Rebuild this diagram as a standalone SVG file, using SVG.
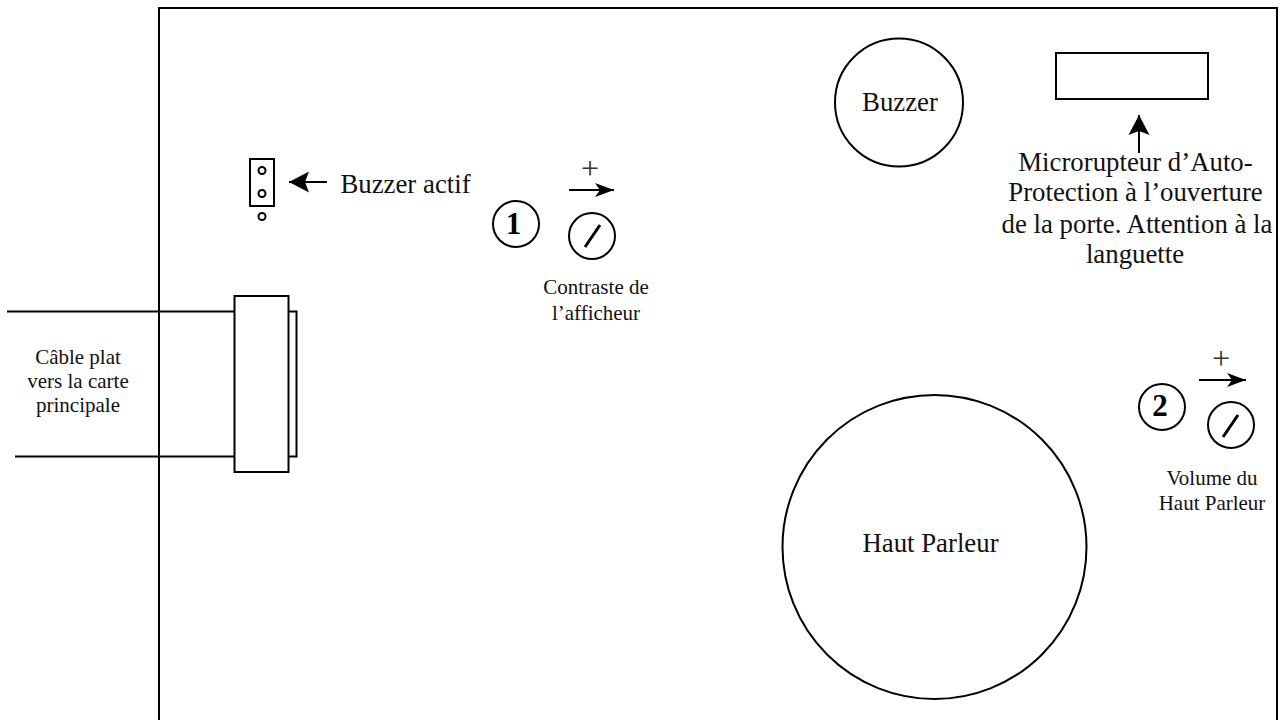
<svg xmlns="http://www.w3.org/2000/svg" width="1286" height="720" viewBox="0 0 1286 720">
<style>
.s{fill:none;stroke:#000;stroke-width:2}
.k{fill:none;stroke:#000;stroke-width:3}
.w{fill:#fff;stroke:#000;stroke-width:2}
.t{font-family:"Liberation Serif","Times New Roman",serif;fill:#111;text-anchor:middle}
.l{font-size:26.800px}
.m{font-size:21px}
.n{font-size:31px;font-weight:bold;fill:#000}
.p{font-size:32px;fill:#333}
</style>
<defs>
<marker id="a" markerUnits="userSpaceOnUse" markerWidth="21" markerHeight="22" refX="20" refY="11" orient="auto"><path d="M0 .5L20 11L0 21.500L4 11Z"/></marker>
<marker id="b" markerUnits="userSpaceOnUse" markerWidth="20" markerHeight="15" refX="19" refY="7.500" orient="auto"><path d="M0 .5L19 7.500L0 14.500L5 7.500Z"/></marker>
</defs>
<rect width="1286" height="720" fill="#fff"/>
<g id="board"><path class="s" d="M159 720V8H1277V720"/></g>
<g id="connectors">
<path class="s" d="M7 311.500H234M15 456.500H234"/>
<path class="s" marker-end="url(#a)" d="M327 182H289"/>
<path class="s" marker-end="url(#b)" d="M569 190H614"/>
<path class="s" marker-end="url(#b)" d="M1199 380H1246"/>
<path class="s" marker-end="url(#a)" d="M1139 153V115"/>
</g>
<g id="buzzer"><circle class="s" cx="899" cy="102.500" r="64"/><text class="t l" x="900" y="111">Buzzer</text></g>
<g id="microswitch"><rect class="s" x="1056" y="53" width="152" height="46"/>
<text class="t l"><tspan x="1135.500" y="171">Microrupteur d’Auto-</tspan><tspan x="1135.500" y="201">Protection à l’ouverture</tspan><tspan x="1137" y="233">de la porte. Attention à la</tspan><tspan x="1135" y="263">languette</tspan></text></g>
<g id="jumper"><rect class="s" x="250" y="159" width="24" height="47"/><circle class="s" cx="262" cy="170.500" r="3.500"/><circle class="s" cx="262" cy="193.500" r="3.500"/><circle class="s" cx="262" cy="216.500" r="3.500"/><text class="t l" x="405.500" y="193">Buzzer actif</text></g>
<g id="contrast"><text class="t p" x="590" y="178.500">+</text><circle class="s" cx="516" cy="224" r="23"/><text class="t n" x="513.500" y="234">1</text><circle class="s" cx="592" cy="236" r="23"/><path class="k" d="M600 225L585 247"/>
<text class="t m"><tspan x="596" y="294">Contraste de</tspan><tspan x="596" y="320">l’afficheur</tspan></text></g>
<g id="volume"><text class="t p" x="1221" y="368.500">+</text><circle class="s" cx="1162" cy="407" r="23"/><text class="t n" x="1160" y="416">2</text><circle class="s" cx="1231" cy="425" r="23"/><path class="k" d="M1238 415L1223 437"/>
<text class="t m"><tspan x="1212" y="485">Volume du</tspan><tspan x="1212" y="510">Haut Parleur</tspan></text></g>
<g id="connector"><rect class="w" x="288" y="311.500" width="8.500" height="145"/><rect class="w" x="234.500" y="296" width="54" height="176"/>
<text class="t m"><tspan x="78" y="364">Câble plat</tspan><tspan x="78" y="388">vers la carte</tspan><tspan x="78" y="412">principale</tspan></text></g>
<g id="speaker"><circle class="s" cx="934.500" cy="547" r="152"/><text class="t l" x="930.500" y="552">Haut Parleur</text></g>
</svg>
